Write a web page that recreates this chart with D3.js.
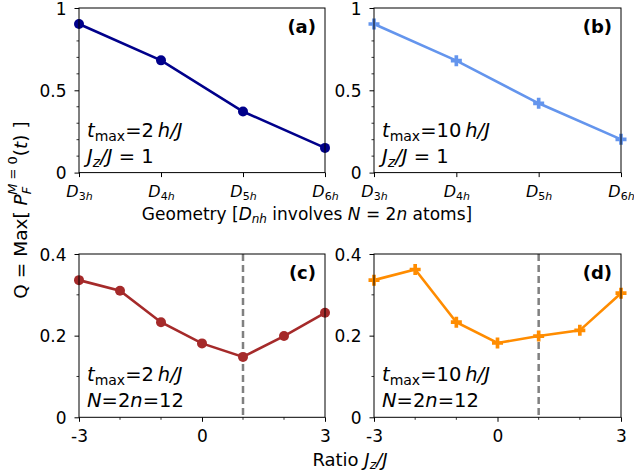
<!DOCTYPE html>
<html>
<head>
<meta charset="utf-8">
<script src="https://cdn.jsdelivr.net/npm/d3@7"></script>
<style>
  body { margin: 0; background: #fff; }
  svg text { font-family: "DejaVu Sans", sans-serif; fill: #000; }
</style>
</head>
<body>
<div id="chart"></div>
<script>
// geometry panels (a), (b)
const geometries = ['3h', '4h', '5h', '6h']
const fidelityShort = [0.903, 0.682, 0.371, 0.150]   // t_max = 2 h/J
const fidelityLong = [0.903, 0.680, 0.421, 0.202]    // t_max = 10 h/J

// ratio panels (c), (d)
const ratios = [-3, -2, -1, 0, 1, 2, 3]
const ratioShort = [0.336, 0.310, 0.233, 0.181, 0.148, 0.199, 0.256]
const ratioLong = [0.336, 0.362, 0.233, 0.182, 0.199, 0.213, 0.304]

const topTicks = [0, 0.5, 1]
const bottomTicks = [0, 0.2, 0.4]
const ratioTicks = [-3, 0, 3]

const W = 634, H = 474
const svg = d3.select('#chart').append('svg')
    .attr('width', W).attr('height', H)

const cols = [{l: 79, r: 325}, {l: 374, r: 621}]
const rows = [{t: 8, b: 172.6}, {t: 254, b: 417.3}]

function plusPath(s) {
    const a = s / 2, b = s / 6
    return `M${-b},${-a}H${b}V${-b}H${a}V${b}H${b}V${a}H${-b}V${b}H${-a}V${-b}H${-b}Z`
}

function panel(opt) {
    const g = svg.append('g')
    const {col, row} = opt
    const x = opt.x, y = opt.y

    // minor ticks
    g.selectAll('.ymin').data(opt.yMinor).enter().append('line')
        .attr('x1', col.l - 2.5).attr('x2', col.l)
        .attr('y1', d => y(d)).attr('y2', d => y(d))
        .attr('stroke', '#000').attr('stroke-width', 0.8)
    if (opt.xMinor) {
        g.selectAll('.xmin').data(opt.xMinor).enter().append('line')
            .attr('x1', d => x(d)).attr('x2', d => x(d))
            .attr('y1', row.b).attr('y2', row.b + 2.5)
            .attr('stroke', '#000').attr('stroke-width', 0.8)
    }

    // y axis
    const yAxis = d3.axisLeft(y).tickValues(opt.yTicks).tickSize(4.5).tickPadding(8)
        .tickFormat(d => d === 0 ? '0' : d3.format('')(d))
    const ya = g.append('g').attr('transform', `translate(${col.l},0)`).call(yAxis)
    ya.select('.domain').remove()
    ya.selectAll('line').attr('stroke-width', 1)
    ya.selectAll('text').style('font-size', '17px').attr('dy', '0.36em')

    // x axis
    const xAxis = d3.axisBottom(x).tickValues(opt.xTicks).tickSize(4.5).tickPadding(opt.geom ? 9 : 8)
        .tickFormat(opt.xFormat || (d => d))
    const xa = g.append('g').attr('transform', `translate(0,${row.b})`).call(xAxis)
    xa.select('.domain').remove()
    xa.selectAll('line').attr('stroke-width', 1)
    xa.selectAll('text').style('font-size', '17px')
    if (opt.geom) {
        xa.selectAll('text').style('font-size', '16px').text(null).each(function(d) {
            const t = d3.select(this)
            t.append('tspan').style('font-style', 'italic').text('D')
            t.append('tspan').attr('dy', 3).style('font-size', '11px').text(d[0])
            t.append('tspan').style('font-size', '11px').style('font-style', 'italic').text(d.slice(1))
        })
    }

    // dashed reference line
    if (opt.dash !== undefined) {
        g.append('line')
            .attr('x1', x(opt.dash)).attr('x2', x(opt.dash))
            .attr('y1', row.t).attr('y2', row.b)
            .attr('stroke', '#808080').attr('stroke-width', 2.5)
            .attr('stroke-dasharray', '7,4')
    }

    // series line
    const pts = opt.xs.map((d, i) => [x(d), y(opt.ys[i])])
    g.append('path').attr('d', d3.line()(pts))
        .attr('fill', 'none').attr('stroke', opt.color).attr('stroke-width', 2.6)

    if (opt.marker === 'circle') {
        g.selectAll('.mk').data(pts).enter().append('circle')
            .attr('cx', d => d[0]).attr('cy', d => d[1]).attr('r', 5)
            .attr('fill', opt.color)
    } else {
        g.selectAll('.mk').data(pts).enter().append('path')
            .attr('d', plusPath(11))
            .attr('transform', d => `translate(${d[0]},${d[1]})`)
            .attr('fill', opt.color)
    }

    // frame
    g.append('rect').attr('x', col.l).attr('y', row.t)
        .attr('width', col.r - col.l).attr('height', row.b - row.t)
        .attr('fill', 'none').attr('stroke', '#000').attr('stroke-width', 1)

    // panel tag
    g.append('text').attr('x', col.r - 9).attr('y', row.t + 25)
        .attr('text-anchor', 'end').style('font-size', '18px').style('font-weight', 'bold')
        .text(opt.tag)

    // annotation
    const a1 = g.append('text').attr('x', col.l + 8).attr('y', row.b - 36).style('font-size', '19.5px')
    a1.append('tspan').style('font-style', 'italic').text('t')
    a1.append('tspan').attr('dy', 4).style('font-size', '14px').text('max')
    a1.append('tspan').attr('dy', -4).text('=' + opt.tmax + '\u2009')
    a1.append('tspan').style('font-style', 'italic').text('h/J')

    const a2 = g.append('text').attr('x', col.l + 8).attr('y', row.b - 10).style('font-size', '19.5px')
    opt.line2(a2)
}

function jzLine(t) {
    t.append('tspan').style('font-style', 'italic').text('J')
    t.append('tspan').attr('dy', 4).style('font-size', '14px').style('font-style', 'italic').text('z')
    t.append('tspan').attr('dy', -4).style('font-style', 'italic').text('/J')
    t.append('tspan').text(' = 1')
}
function nLine(t) {
    t.append('tspan').style('font-style', 'italic').text('N')
    t.append('tspan').text('=2')
    t.append('tspan').style('font-style', 'italic').text('n')
    t.append('tspan').text('=12')
}

const yTop = d3.scaleLinear().domain([0, 1])
const yBot = d3.scaleLinear().domain([0, 0.4])

const panels = [
    {tag: '(a)', col: cols[0], row: rows[0], geom: true, xs: geometries, ys: fidelityShort,
     color: '#00008b', marker: 'circle', tmax: '2', line2: jzLine},
    {tag: '(b)', col: cols[1], row: rows[0], geom: true, xs: geometries, ys: fidelityLong,
     color: '#6495ed', marker: 'plus', tmax: '10', line2: jzLine},
    {tag: '(c)', col: cols[0], row: rows[1], xs: ratios, ys: ratioShort,
     color: '#a52a2a', marker: 'circle', tmax: '2', line2: nLine, dash: 1},
    {tag: '(d)', col: cols[1], row: rows[1], xs: ratios, ys: ratioLong,
     color: '#ff8c00', marker: 'plus', tmax: '10', line2: nLine, dash: 1}
]

panels.forEach(p => {
    if (p.geom) {
        p.x = d3.scalePoint().domain(geometries).range([p.col.l, p.col.r])
        p.y = yTop.copy().range([p.row.b, p.row.t])
        p.yTicks = topTicks
        p.yMinor = d3.range(1, 10).map(v => v / 10).filter(v => v !== 0.5)
        p.xTicks = geometries
    } else {
        p.x = d3.scaleLinear().domain([-3, 3]).range([p.col.l, p.col.r])
        p.y = yBot.copy().range([p.row.b, p.row.t])
        p.yTicks = bottomTicks
        p.yMinor = [0.1, 0.3]
        p.xTicks = ratioTicks
        p.xMinor = ratios.filter(v => !ratioTicks.includes(v))
        p.xFormat = d => d < 0 ? '-' + Math.abs(d) : d
    }
    panel(p)
})

// shared axis labels
const gl = svg.append('text').attr('x', 307).attr('y', 220)
    .attr('text-anchor', 'middle').style('font-size', '17px')
gl.append('tspan').text('Geometry [')
gl.append('tspan').style('font-style', 'italic').text('D')
gl.append('tspan').attr('dy', 3).style('font-size', '12px').style('font-style', 'italic').text('nh')
gl.append('tspan').attr('dy', -3).text(' involves ')
gl.append('tspan').style('font-style', 'italic').text('N')
gl.append('tspan').text(' = 2')
gl.append('tspan').style('font-style', 'italic').text('n')
gl.append('tspan').text(' atoms]')

const rl = svg.append('text').attr('x', 350).attr('y', 466)
    .attr('text-anchor', 'middle').style('font-size', '18px')
rl.append('tspan').text('Ratio ')
rl.append('tspan').style('font-style', 'italic').text('J')
rl.append('tspan').attr('dy', 3).style('font-size', '12.5px').style('font-style', 'italic').text('z')
rl.append('tspan').attr('dy', -3).style('font-style', 'italic').text('/J')

const ql = svg.append('text')
    .attr('transform', 'translate(27,210) rotate(-90)')
    .attr('text-anchor', 'middle').style('font-size', '18.5px')
ql.append('tspan').text('Q = Max[ ')
ql.append('tspan').style('font-style', 'italic').text('P')
ql.append('tspan').attr('dy', 4).style('font-size', '13px').style('font-style', 'italic').text('F')
ql.append('tspan').attr('dx', -8).attr('dy', -14).style('font-size', '13px').style('font-style', 'italic').text('M')
ql.append('tspan').style('font-size', '13px').text(' = 0')
ql.append('tspan').attr('dy', 10).text('(')
ql.append('tspan').style('font-style', 'italic').text('t')
ql.append('tspan').text(') ]')
</script>
</body>
</html>
